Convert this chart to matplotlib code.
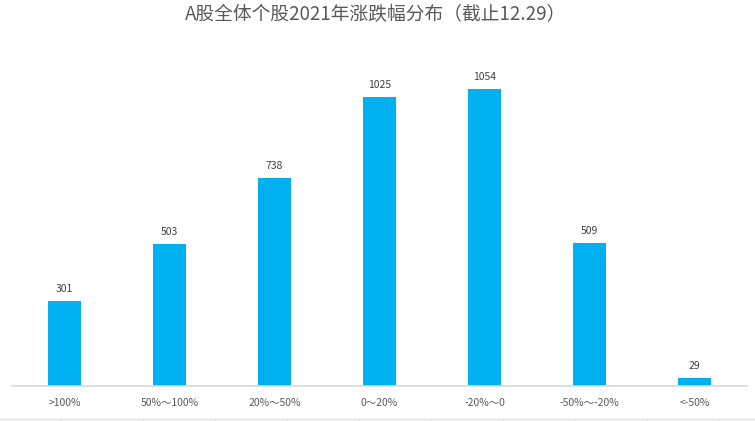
import matplotlib
matplotlib.use("Agg")
import matplotlib.pyplot as plt
from matplotlib.lines import Line2D

plt.rcParams['font.family'] = ['Noto Sans CJK SC', 'DejaVu Sans']

categories = [">100%", "50%～100%", "20%～50%", "0～20%", "-20%～0", "-50%～-20%", "<-50%"]
values = [301, 503, 738, 1025, 1054, 509, 29]
title = "A股全体个股2021年涨跌幅分布（截止12.29）"

W, H = 755, 421
fig = plt.figure(figsize=(W / 100, H / 100), dpi=100)
left, right, bottom, top = 12, 747, 386, 40
ax = fig.add_axes([left / W, 1 - bottom / H, (right - left) / W, (bottom - top) / H])

x = list(range(len(categories)))
bars = ax.bar(x, values, width=33 / 105, color="#00B0F0")
ax.set_xlim(-0.5, len(categories) - 0.5)
ax.set_ylim(0, 1228)

for xi, v in zip(x, values):
    ax.annotate(str(v), (xi, v), xytext=(0, 5), textcoords="offset points",
                ha="center", va="bottom", fontsize=7.5, color="#404040")

ax.set_xticks(x)
ax.set_xticklabels(categories, fontsize=7.5, color="#595959")
ax.tick_params(axis="x", length=0, pad=9)
ax.set_yticks([])
for s in ["top", "right", "left"]:
    ax.spines[s].set_visible(False)
ax.spines["bottom"].set_color("#D9D9D9")
ax.spines["bottom"].set_linewidth(1.2)

fig.text(376 / W, 1 - 15 / H, title, ha="center", va="center", fontsize=13.5, color="#595959")

# faint spreadsheet grid at bottom edge
yb = 1 - 419 / H
fig.add_artist(Line2D([0, 1], [yb, yb], color="#E0E0E0", lw=1, transform=fig.transFigure))
for gx in [60, 143, 215, 287, 359, 430, 503, 574, 647, 718]:
    fig.add_artist(Line2D([gx / W, gx / W], [yb, 0], color="#E0E0E0", lw=1, transform=fig.transFigure))

fig.savefig("out.png", dpi=100)
